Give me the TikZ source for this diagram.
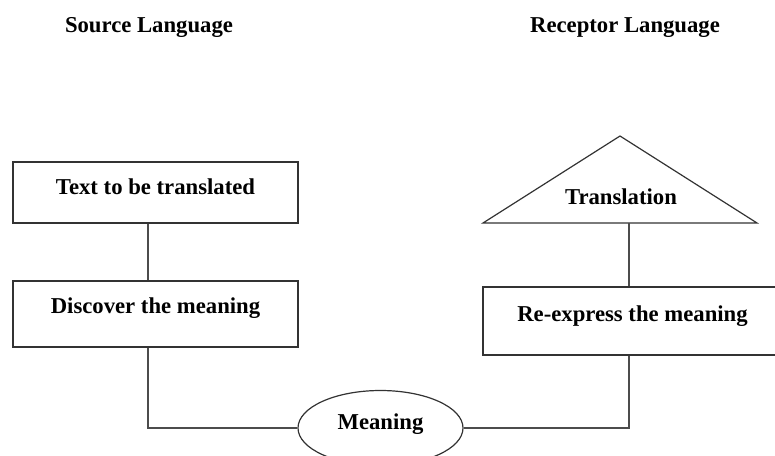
\documentclass[tikz,border=0pt]{standalone}
\usepackage{fontspec}
\setmainfont{Liberation Serif}
\usetikzlibrary{shapes.geometric}

\begin{document}
\begin{tikzpicture}[x=1pt,y=-1pt,line width=1.2pt]
    %
    % `box' is used for the rectangular steps.
    % `lbl' is used for all texts (bold serif).
    % `oval' is used for the meaning in the middle.
    \tikzstyle{lbl} = [font=\fontsize{22.7}{26}\selectfont\bfseries,inner sep=0pt]
    \tikzstyle{box} = [draw=black!80,fill=white,minimum width=285pt,inner sep=0pt]
    \tikzstyle{oval} = [draw=black!80,fill=white,ellipse,minimum width=165pt,minimum height=75pt,inner sep=0pt]
    \tikzstyle{wire} = [draw=black!70]
    %
    \useasboundingbox (0,0) rectangle (775,455);
    %
    % Headings
    \node[lbl] (srclang) at (149,27) {Source Language};
    \node[lbl] (reclang) at (625,28) {Receptor Language};
    %
    % Source side
    \node[box,minimum height=61pt,label={[lbl,yshift=6pt]center:Text to be translated}] (totrans) at (155.5,192.5) {};
    \node[box,minimum height=66pt,label={[lbl,yshift=6pt]center:Discover the meaning}] (discover) at (155.5,314) {};
    \draw[wire] (totrans.south -| 148,0) -- (discover.north -| 148,0);
    %
    % Receptor side
    \coordinate (apex) at (620,136);
    \coordinate (baseL) at (483,223);
    \coordinate (baseR) at (757,223);
    \draw[black!80,line join=miter] (baseL) -- (apex) -- (baseR) -- cycle;
    \node[lbl] (translation) at (621,197) {Translation};
    \node[box,minimum width=295pt,minimum height=68pt,label={[lbl,yshift=5pt,xshift=2pt]center:Re-express the meaning}] (reexpress) at (630.5,321) {};
    \draw[wire] (629,223) -- (reexpress.north -| 629,0);
    %
    % Meaning in the middle
    \node[oval] (meaning) at (380.5,428) {};
    \node[lbl] (meaningtxt) at (380.5,424) {Meaning};
    \draw[wire] (discover.south -| 148,0) |- (meaning.west);
    \draw[wire] (reexpress.south -| 629,0) |- (meaning.east);
    %
\end{tikzpicture}
\end{document}
